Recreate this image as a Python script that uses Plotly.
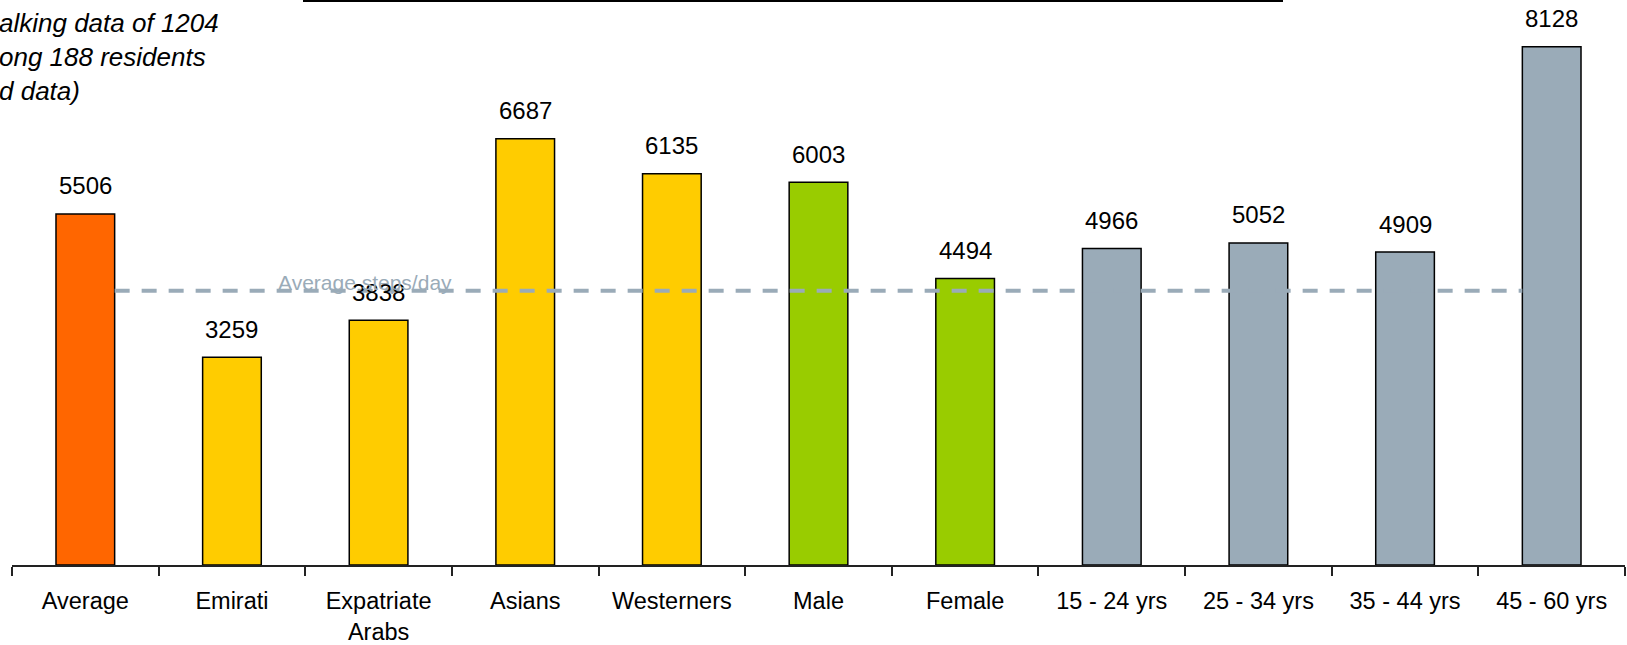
import plotly.graph_objects as go

# Average daily steps by group
categories = ["Average", "Emirati", "Expatriate<br>Arabs", "Asians", "Westerners",
              "Male", "Female", "15 - 24 yrs", "25 - 34 yrs", "35 - 44 yrs", "45 - 60 yrs"]
steps = [5506, 3259, 3838, 6687, 6135, 6003, 4494, 4966, 5052, 4909, 8128]
bar_colors = ["#FF6600", "#FFCC00", "#FFCC00", "#FFCC00", "#FFCC00",
              "#99CC00", "#99CC00", "#9AABB8", "#9AABB8", "#9AABB8", "#9AABB8"]

# Reference level drawn as a dashed line
reference_level = 4300
reference_label = "Average steps/day"

note_lines = ["alking data of 1204", "ong 188 residents", "d data)"]

FONT = "Liberation Sans, Arial, sans-serif"
W, H = 1627, 645
ML, MR, MT, MB = 12, 2, 0, 78
Y_MAX = 8862

fig = go.Figure()
fig.add_trace(go.Bar(
    x=categories, y=steps,
    marker=dict(color=bar_colors, line=dict(color="#000000", width=1.5)),
    width=0.4,
    hoverinfo="skip",
))

# Value labels above each bar
for cat, v in zip(categories, steps):
    fig.add_annotation(x=cat, y=v, text=str(v), showarrow=False,
                       xanchor="center", yanchor="middle", yshift=28,
                       font=dict(family=FONT, size=24, color="#000000"))

# Dashed reference line spanning from the first bar to the last bar
half = 0.2
fig.add_shape(type="line", xref="x", yref="y",
              x0=half, x1=len(categories) - 1 - half,
              y0=reference_level, y1=reference_level,
              line=dict(color="#9AABB8", width=4, dash="15px,12px"),
              layer="above")
fig.add_annotation(x=1.91, y=reference_level, text=reference_label, showarrow=False,
                   xanchor="center", yanchor="middle", yshift=8,
                   font=dict(family=FONT, size=21, color="#9AABB8"))

# Note text in the top-left corner
fig.add_annotation(xref="paper", yref="paper", x=-15 / (W - ML - MR), y=1 - 57 / (H - MT - MB),
                   text="<br>".join(note_lines), showarrow=False, align="left",
                   xanchor="left", yanchor="middle",
                   font=dict(family=FONT, size=26, color="#000000", style="italic"))

# Rule along the top edge
fig.add_shape(type="line", xref="paper", yref="paper",
              x0=(303 - ML) / (W - ML - MR), x1=(1283 - ML) / (W - ML - MR),
              y0=1 - 0.5 / (H - MT - MB), y1=1 - 0.5 / (H - MT - MB),
              line=dict(color="#000000", width=3), layer="above")

fig.update_layout(
    width=W, height=H,
    margin=dict(l=ML, r=MR, t=MT, b=MB, pad=0),
    paper_bgcolor="#FFFFFF", plot_bgcolor="#FFFFFF",
    showlegend=False,
    font=dict(family=FONT, size=24, color="#000000"),
)
fig.update_xaxes(
    type="category", categoryorder="array", categoryarray=categories,
    tickson="boundaries",
    range=[-0.5, len(categories) - 0.5],
    showgrid=False, zeroline=False,
    showline=True, linecolor="#222222", linewidth=1.5,
    ticks="outside", ticklen=9, tickwidth=1.5, tickcolor="#222222",
    ticklabelstandoff=14,
    tickfont=dict(family=FONT, size=23.5, color="#000000"),
    tickangle=0,
)
fig.update_yaxes(range=[0, Y_MAX], visible=False, showgrid=False, zeroline=False)

fig.write_html("out.html")
